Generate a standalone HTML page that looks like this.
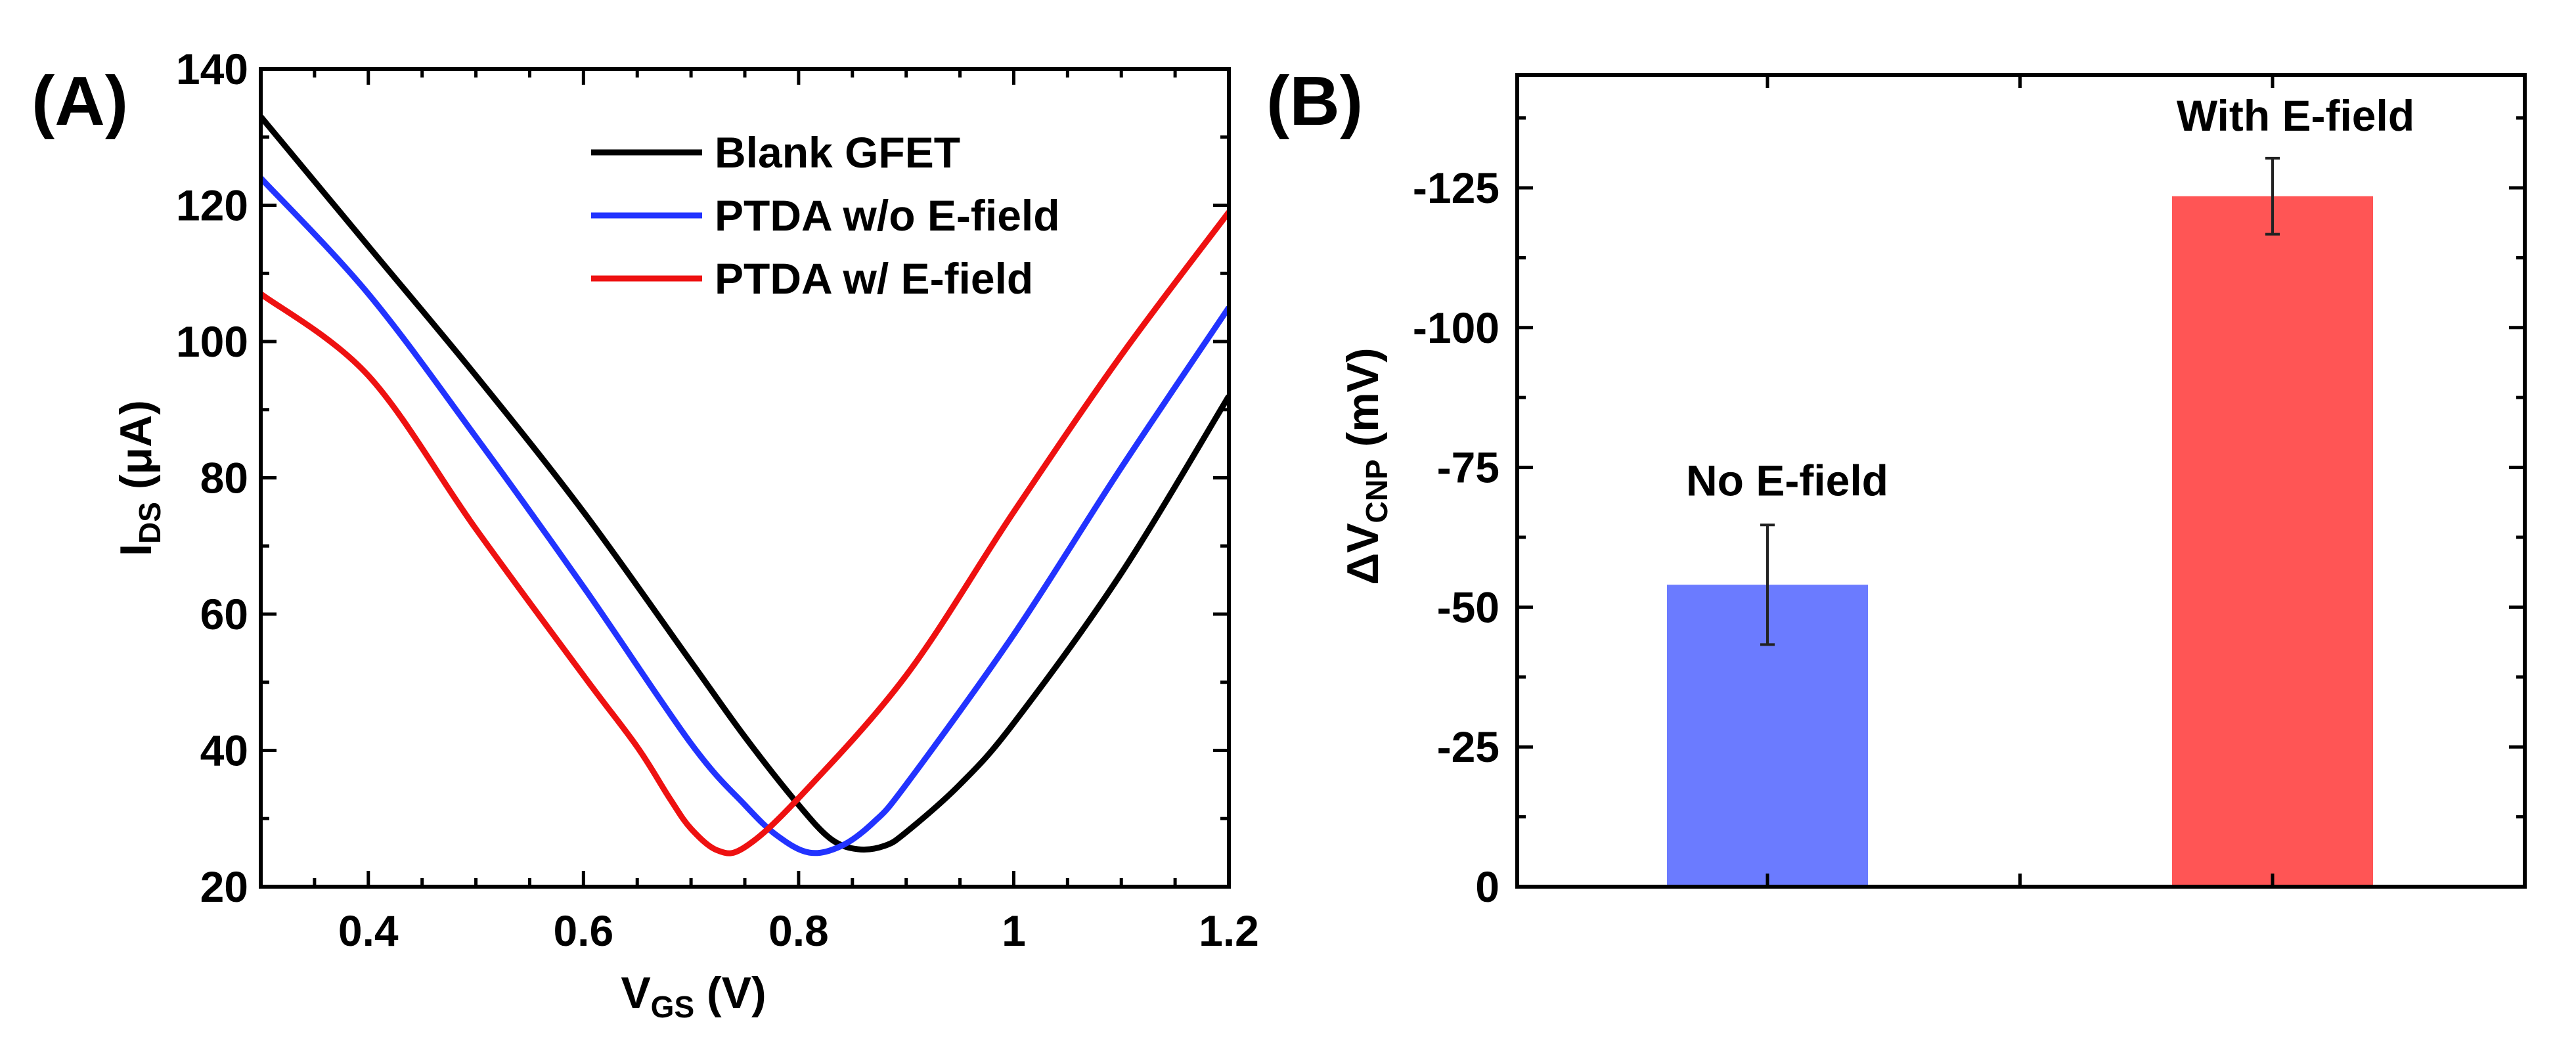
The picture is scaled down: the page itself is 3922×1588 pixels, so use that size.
<!DOCTYPE html>
<html><head><meta charset="utf-8"><style>
html,body{margin:0;padding:0;background:#fff;}
svg{display:block;font-family:"Liberation Sans",Arial,sans-serif;font-weight:bold;}
</style></head><body>
<svg id="fig" width="3922" height="1588" viewBox="0 0 3922 1588" xmlns="http://www.w3.org/2000/svg">
<rect width="3922" height="1588" fill="#fff"/>
<g id="pa"></g>
<g id="pb"></g>
</svg>
<script>
const xsA=[0.3,0.4,0.5,0.6,0.7,0.75,0.8,0.83,0.855,0.88,0.9,0.95,1.0,1.1,1.2];
const blackY=[133,114,95,75,53,42,32,27,25.5,26,28,35,44,66,92];
const xsB=[0.3,0.4,0.5,0.6,0.7,0.75,0.78,0.81,0.84,0.87,0.9,1.0,1.1,1.2];
const blueY=[124,107,86,64,41,32,27.5,25,26,29.5,35,57,81.5,105];
const xsR=[0.3,0.4,0.5,0.6,0.65,0.68,0.7,0.725,0.75,0.8,0.9,1.0,1.1,1.2];
const redY=[107,95,72.5,51,40.5,33,28.5,25.3,25.8,33,51,75,98,119];
const seriesNames=["Blank GFET","PTDA w/o E-field","PTDA w/ E-field"];
const xTicksA=[0.4,0.6,0.8,1.0,1.2];
const xTickLabelsA=["0.4","0.6","0.8","1","1.2"];
const yTicksA=[20,40,60,80,100,120,140];
const barCats=["No E-field","With E-field"];
const barVals=[-54,-123.5];
const barErrs=[10.7,6.8];
const yTicksB=[0,-25,-50,-75,-100,-125];

const NS="http://www.w3.org/2000/svg";
function mk(p,t,a,txt){const e=document.createElementNS(NS,t);for(const k in a)e.setAttribute(k,a[k]);if(txt!=null)e.textContent=txt;p.appendChild(e);return e;}

const pa=document.getElementById('pa');
const AL=397,AR=1871,AT=105,AB=1350;
const ax=v=>AL+(v-0.3)/(1.2-0.3)*(AR-AL);
const ay=v=>AB-(v-20)/(140-20)*(AB-AT);
function smooth(xs,ys){const P=xs.map((x,i)=>[ax(x),ay(ys[i])]);let d=`M${P[0][0]},${P[0][1]}`;
for(let i=0;i<P.length-1;i++){const p0=P[Math.max(0,i-1)],p1=P[i],p2=P[i+1],p3=P[Math.min(P.length-1,i+2)];
d+=` C${p1[0]+(p2[0]-p0[0])/6},${p1[1]+(p2[1]-p0[1])/6} ${p2[0]-(p3[0]-p1[0])/6},${p2[1]-(p3[1]-p1[1])/6} ${p2[0]},${p2[1]}`;}return d;}
const clip=mk(pa,'clipPath',{id:'ca'});mk(clip,'rect',{x:AL,y:AT,width:AR-AL,height:AB-AT});
const cols=["#000","#2233ff","#ee1111"];
const data=[[xsA,blackY],[xsB,blueY],[xsR,redY]];
const cnames=['curve-blank-gfet','curve-ptda-no-field','curve-ptda-with-field'];
data.forEach((s,i)=>{const e=mk(pa,'path',{d:smooth(s[0],s[1]),fill:'none',stroke:cols[i],'stroke-width':9,'clip-path':'url(#ca)','stroke-linejoin':'round'});

});
for(let v=0.3;v<=1.2001;v+=0.05){const X=ax(v);const major=Math.abs(Math.round(v*10)-v*10)<0.01&&Math.round(v*10)%2==0;const L=major?24:13;
mk(pa,'line',{x1:X,x2:X,y1:AB,y2:AB-L,stroke:'#000','stroke-width':5});mk(pa,'line',{x1:X,x2:X,y1:AT,y2:AT+L,stroke:'#000','stroke-width':5});}
for(let v=20;v<=140;v+=10){const Y=ay(v);const L=v%20==0?24:13;
mk(pa,'line',{x1:AL,x2:AL+L,y1:Y,y2:Y,stroke:'#000','stroke-width':5});mk(pa,'line',{x1:AR,x2:AR-L,y1:Y,y2:Y,stroke:'#000','stroke-width':5});}
mk(pa,'rect',{x:AL,y:AT,width:AR-AL,height:AB-AT,fill:'none',stroke:'#000','stroke-width':6});
xTicksA.forEach((v,i)=>{const t=mk(pa,'text',{x:ax(v),y:1440,'font-size':66,'text-anchor':'middle'},xTickLabelsA[i]);

});
yTicksA.forEach(v=>{const t=mk(pa,'text',{x:378,y:ay(v)+23,'font-size':66,'text-anchor':'end'},String(v));

});
seriesNames.forEach((n,i)=>{const Y=232+i*96;
const l=mk(pa,'line',{x1:900,x2:1069,y1:Y,y2:Y,stroke:cols[i],'stroke-width':9});


const t=mk(pa,'text',{x:1088,y:Y+23,'font-size':66},n);

});
</script>
<script>
(function(){const pa=document.getElementById('pa');
pa.insertAdjacentHTML('beforeend',`
<text x="48" y="190" font-size="106">(A)</text>
<text x="1056" y="1535" font-size="68" text-anchor="middle">V<tspan font-size="46" dy="14">GS</tspan><tspan dy="-14"> (V)</tspan></text>
<text transform="translate(230,728) rotate(-90)" font-size="68" text-anchor="middle">I<tspan font-size="46" dy="14">DS</tspan><tspan dy="-14"> (μA)</tspan></text>`);
})();
const pb=document.getElementById('pb');
const BL=2310,BR=3844,BT=114,BB=1350;
const by=v=>BB-(-v)/25*(1350-286)/5;
const bx=i=>2691+i*(3460-2691);
const bcols=["#6b7bff","#ff5555"];
barVals.forEach((v,i)=>{const r=mk(pb,'rect',{x:bx(i)-153,y:by(v),width:306,height:BB-by(v),fill:bcols[i]});


const y1=by(v-barErrs[i]),y2=by(v+barErrs[i]);
const g=mk(pb,'g',{stroke:'#222','stroke-width':4});


mk(g,'line',{x1:bx(i),x2:bx(i),y1:y1,y2:y2});mk(g,'line',{x1:bx(i)-11,x2:bx(i)+11,y1:y1,y2:y1});mk(g,'line',{x1:bx(i)-11,x2:bx(i)+11,y1:y2,y2:y2});
const t=mk(pb,'text',{x:bx(i)+(i?35:30),y:by(v-barErrs[i])-(i?42:45),'font-size':66,'text-anchor':'middle'},barCats[i]);

});
for(let v=0;v>=-145;v-=12.5){const Y=by(v);const L=(v%25==0)?24:13;
mk(pb,'line',{x1:BL,x2:BL+L,y1:Y,y2:Y,stroke:'#000','stroke-width':5});mk(pb,'line',{x1:BR,x2:BR-L,y1:Y,y2:Y,stroke:'#000','stroke-width':5});}
[bx(0),(bx(0)+bx(1))/2,bx(1)].forEach(X=>{mk(pb,'line',{x1:X,x2:X,y1:BB,y2:BB-20,stroke:'#000','stroke-width':5});mk(pb,'line',{x1:X,x2:X,y1:BT,y2:BT+20,stroke:'#000','stroke-width':5});});
mk(pb,'rect',{x:BL,y:BT,width:BR-BL,height:BB-BT,fill:'none',stroke:'#000','stroke-width':6});
yTicksB.forEach(v=>{const t=mk(pb,'text',{x:2283,y:by(v)+23,'font-size':66,'text-anchor':'end'},String(v));

});
pb.insertAdjacentHTML('beforeend',`
<text x="1928" y="190" font-size="106">(B)</text>
<text transform="translate(2098,710) rotate(-90)" font-size="68" text-anchor="middle">ΔV<tspan font-size="46" dy="14">CNP</tspan><tspan dy="-14"> (mV)</tspan></text>`);
</script>
</body></html>
